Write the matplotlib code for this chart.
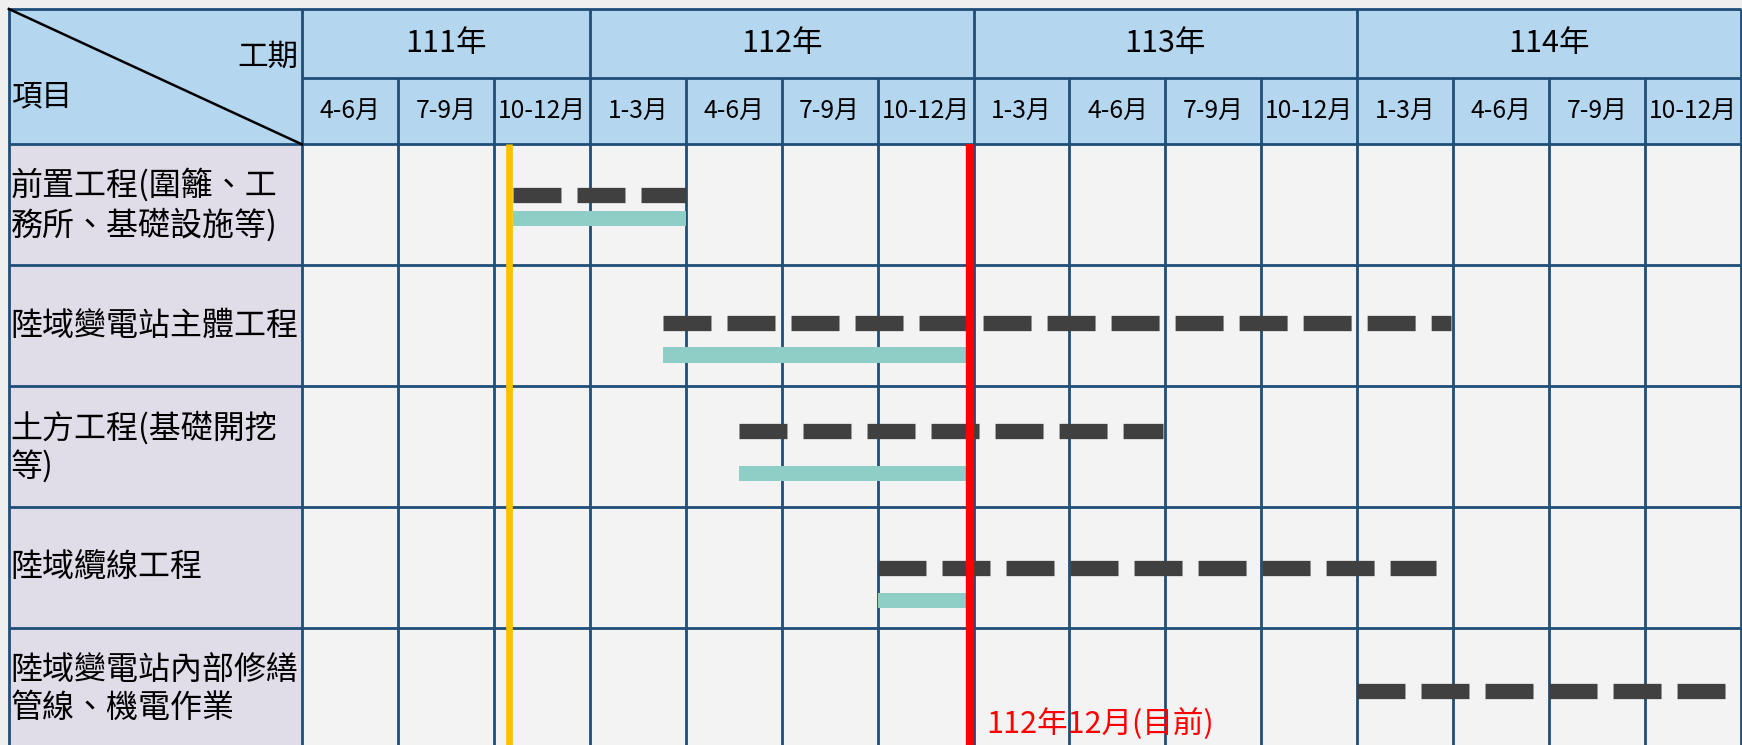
import numpy as np
import matplotlib.pyplot as plt
from matplotlib.patches import Rectangle

plt.rcParams['font.family'] = ['Noto Sans CJK TC', 'DejaVu Sans']

years = ['111年', '112年', '113年', '114年']
year_quarters = [3, 4, 4, 4]
quarters = ['4-6月', '7-9月', '10-12月',
            '1-3月', '4-6月', '7-9月', '10-12月',
            '1-3月', '4-6月', '7-9月', '10-12月',
            '1-3月', '4-6月', '7-9月', '10-12月']
tasks = ['前置工程(圍籬、工\n務所、基礎設施等)',
         '陸域變電站主體工程',
         '土方工程(基礎開挖\n等)',
         '陸域纜線工程',
         '陸域變電站內部修繕\n管線、機電作業']

# 時間以季為單位, 0 = 111年4月初
plan_start = [2.2, 3.76, 4.55, 6.0, 11.0]
plan_end = [4.0, 11.98, 8.97, 11.82, 14.83]
act_start = [2.2, 3.76, 4.55, 6.0]
act_end = [4.0, 6.93, 6.93, 6.93]
start_mark = 2.16
now_mark = 6.96
now_text = '112年12月(目前)'

# 每列內的線條位置 (列高=1)
plan_off = [0.42, 0.48, 0.37, 0.50, 0.52]
act_off = [0.61, 0.74, 0.72, 0.77]

grid_c = '#1f4e79'
L = -3.056   # 項目欄左緣
T = -1.119   # 表頭上緣
YB = -0.55   # 年份列下緣
nq = len(quarters)
nr = len(tasks)

fig = plt.figure(figsize=(17.42, 7.45), dpi=100)
fig.patch.set_facecolor('#efefef')
ax = fig.add_axes([0, 0, 1, 1])
ax.set_xlim(-3.148, 15.01)
ax.set_ylim(4.963, -1.193)
ax.axis('off')

# 底色
ax.add_patch(Rectangle((L, T), nq - L, -T, facecolor='#b4d6ef', edgecolor='none', zorder=0))
ax.add_patch(Rectangle((L, 0), -L, nr + 1, facecolor='#e0dce8', edgecolor='none', zorder=0))
ax.add_patch(Rectangle((0, 0), nq, nr + 1, facecolor='#f3f3f3', edgecolor='none', zorder=0))

# 格線
ax.hlines([T, 0] + list(range(1, nr)), L, nq, color=grid_c, lw=2, zorder=1)
ax.hlines(YB, 0, nq, color=grid_c, lw=2, zorder=1)
ax.vlines([L, 0], T, nr + 1, color=grid_c, lw=2, zorder=1)
ax.vlines(np.arange(1, nq + 1), YB, nr + 1, color=grid_c, lw=2, zorder=1)
bounds = np.cumsum(year_quarters)
ax.vlines(bounds, T, YB, color=grid_c, lw=2, zorder=1)
ax.plot([L, 0], [T, 0], color='black', lw=1.8, zorder=2)

# 表頭文字
ax.text(-0.04, -0.72, '工期', ha='right', va='center', fontsize=22, zorder=3)
ax.text(L + 0.02, -0.39, '項目', ha='left', va='center', fontsize=22, zorder=3)
left = 0
for y, n in zip(years, year_quarters):
    ax.text(left + n / 2, (T + YB) / 2, y, ha='center', va='center', fontsize=22, zorder=3)
    left += n
for i, q in enumerate(quarters):
    ax.text(i + 0.5, YB / 2, q, ha='center', va='center', fontsize=17.8, zorder=3)
for i, t in enumerate(tasks):
    ax.text(L + 0.02, i + 0.5, t, ha='left', va='center', fontsize=23,
            linespacing=1.22, zorder=3)

# 進度
for i in range(nr):
    y = i + plan_off[i]
    ax.plot([plan_start[i], plan_end[i]], [y, y], color='#404040', lw=11,
            dashes=(3.14, 1.05), dash_capstyle='butt', zorder=4)
for i in range(len(act_start)):
    ax.barh(i + act_off[i], act_end[i] - act_start[i], left=act_start[i],
            height=0.125, color='#8ecec6', zorder=4)

ax.vlines(start_mark, 0, nr + 1, color='#ffc000', lw=4.8, zorder=5)
ax.vlines(now_mark, 0, nr + 1, color='#ff0000', lw=6, zorder=5)
ax.text(now_mark + 0.17, 4.79, now_text, color='#ff0000', ha='left', va='center',
        fontsize=22, fontweight='medium', zorder=6)

fig.savefig('out.png', dpi=100, facecolor=fig.get_facecolor())
